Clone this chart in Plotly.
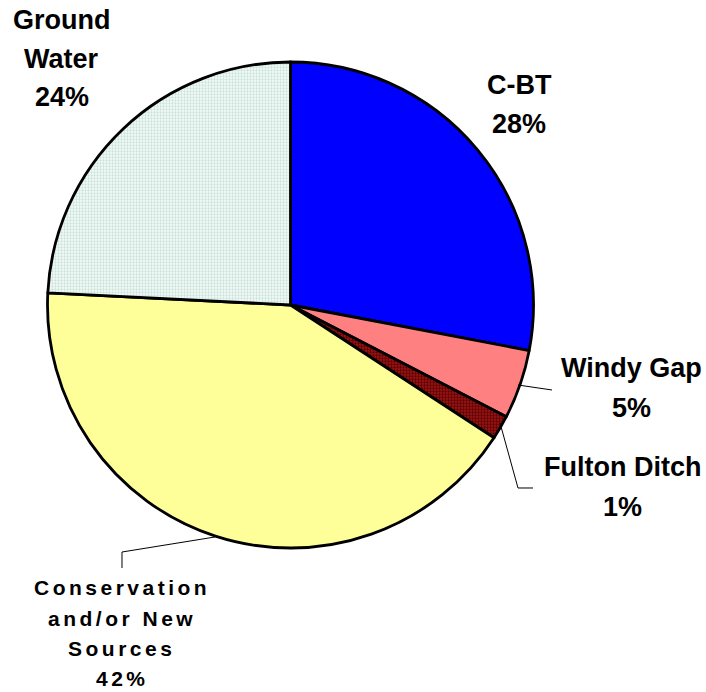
import plotly.graph_objects as go

# ---- data ----
sources = ["C-BT", "Windy Gap", "Fulton Ditch", "Conservation and/or New Sources", "Ground Water"]
shares = [28.0, 4.6, 1.6, 41.6, 24.2]
pct_labels = ["28%", "5%", "1%", "42%", "24%"]

# ---- styling ----
colors = ["#0000FF", "#FF8080", "#9A1414", "#FFFF99", "#F6FBF9"]
pat_shapes = ["", "", ".", "", "."]
pat_fg = ["#0000FF", "#FF8080", "#5A0000", "#FFFF99", "#C9E3DA"]

W, H = 706, 692
cx, cy, R = 290.5, 305.0, 243.0

fig = go.Figure(go.Pie(
    labels=sources,
    values=shares,
    sort=False,
    direction="clockwise",
    rotation=0,
    textinfo="none",
    hoverinfo="none",
    showlegend=False,
    marker=dict(
        colors=colors,
        line=dict(color="black", width=2.8),
        pattern=dict(shape=pat_shapes, fgcolor=pat_fg, bgcolor=colors,
                     size=3, solidity=0.45, fillmode="replace"),
    ),
    domain=dict(x=[(cx - R) / W, (cx + R) / W],
                y=[(H - cy - R) / H, (H - cy + R) / H]),
))

def px(x, y):
    return x / W, 1 - y / H

SP = "\u2006"  # narrow space used for the letter-spaced label

label_blocks = [
    (["Ground", "Water", pct_labels[4]], 61.5, [20, 59, 97], 27, False),
    (["C-BT", pct_labels[0]], 519, [85, 124], 27, False),
    (["Windy Gap", pct_labels[1]], 631, [368, 408], 27, False),
    (["Fulton Ditch", pct_labels[2]], 622, [467, 507], 27, False),
    (["Conservation", "and/or New", "Sources", pct_labels[3]], 120, [587, 618, 648, 678], 21, True),
]

annotations = []
for lines, x, ys, size, sp in label_blocks:
    for line, y in zip(lines, ys):
        txt = SP.join(list(line)) if sp else line
        xp, yp = px(x, y)
        annotations.append(dict(
            x=xp, y=yp, xref="paper", yref="paper", xanchor="center", yanchor="middle",
            text="<b>" + txt + "</b>", showarrow=False,
            font=dict(family="Liberation Sans, Arial, sans-serif", size=size, color="black"),
        ))

leaders = [
    [(518, 385), (552, 390)],
    [(500, 423), (518, 488), (533, 488)],
    [(215, 537), (122, 552), (122, 568)],
]
shapes = []
for pts in leaders:
    path = ""
    for i, (x, y) in enumerate(pts):
        xp, yp = px(x, y)
        path += ("M" if i == 0 else " L") + f"{xp:.5f},{yp:.5f}"
    shapes.append(dict(type="path", path=path, xref="paper", yref="paper",
                       line=dict(color="black", width=1)))

fig.update_layout(
    width=W, height=H,
    margin=dict(l=0, r=0, t=0, b=0),
    paper_bgcolor="white",
    plot_bgcolor="white",
    annotations=annotations,
    shapes=shapes,
)

fig.write_html("out.html",
               config={"displayModeBar": False},
               post_script="document.body.style.margin='0';document.body.style.overflow='hidden';")
